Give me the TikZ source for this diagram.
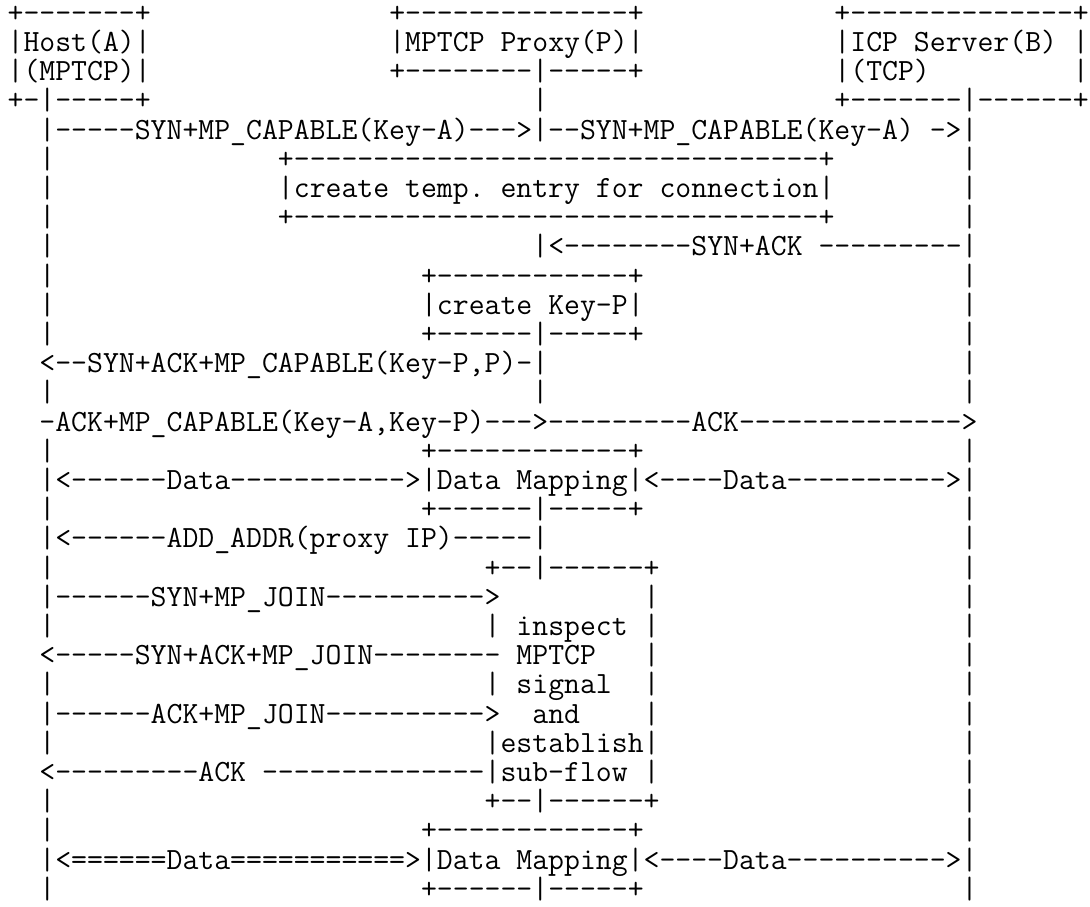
\documentclass[tikz,border=0pt]{standalone}
\usepackage{fontspec}
\frenchspacing
\newlength\cw
\def\fszv{22.7}
\AtBeginDocument{%
  \settowidth\cw{\ttfamily\fontsize{20pt}{20pt}\selectfont M}%
  \ifdim\cw>1pt \pgfmathsetmacro\fszv{20*11.925/\cw}\fi}
\tikzset{seg/.style={anchor=base west, inner sep=0pt, outer sep=0pt, text=black,
  font=\ttfamily\fontsize{\fszv pt}{\fszv pt}\selectfont}}
% row, column, text  (column width 15.9px, row pitch 29.2px)
\newcommand\asg[3]{\node[seg] (s#1-#2) at ({7.65+15.9*#2},{22.3+29.2*(#1-1)}) {#3};}
\begin{document}
\begin{tikzpicture}[x=0.75pt,y=-0.75pt]
\useasboundingbox (0,0) rectangle (1090,907);
\asg{1}{0}{+-------+}\asg{1}{24}{+--------------+}\asg{1}{52}{+--------------+}
\asg{2}{0}{|Host(A)|}\asg{2}{24}{|MPTCP Proxy(P)|}\asg{2}{52}{|ICP Server(B) |}
\asg{3}{0}{|(MPTCP)|}\asg{3}{24}{+--------|-----+}\asg{3}{52}{|(TCP)}\asg{3}{67}{|}
\asg{4}{0}{+-|-----+}\asg{4}{33}{|}\asg{4}{52}{+-------|------+}
\asg{5}{2}{|-----SYN+MP\_CAPABLE(Key-A)--->|--SYN+MP\_CAPABLE(Key-A) ->|}
\asg{6}{2}{|}\asg{6}{17}{+---------------------------------+}\asg{6}{60}{|}
\asg{7}{2}{|}\asg{7}{17}{|create temp. entry for connection|}\asg{7}{60}{|}
\asg{8}{2}{|}\asg{8}{17}{+---------------------------------+}\asg{8}{60}{|}
\asg{9}{2}{|}\asg{9}{33}{|<--------SYN+ACK ---------|}
\asg{10}{2}{|}\asg{10}{26}{+------------+}\asg{10}{60}{|}
\asg{11}{2}{|}\asg{11}{26}{|create Key-P|}\asg{11}{60}{|}
\asg{12}{2}{|}\asg{12}{26}{+------|-----+}\asg{12}{60}{|}
\asg{13}{2}{<--SYN+ACK+MP\_CAPABLE(Key-P,P)-|}\asg{13}{60}{|}
\asg{14}{2}{|}\asg{14}{33}{|}\asg{14}{60}{|}
\asg{15}{2}{-ACK+MP\_CAPABLE(Key-A,Key-P)--->---------ACK-------------->}
\asg{16}{2}{|}\asg{16}{26}{+------------+}\asg{16}{60}{|}
\asg{17}{2}{|<------Data----------->|Data Mapping|<----Data---------->|}
\asg{18}{2}{|}\asg{18}{26}{+------|-----+}\asg{18}{60}{|}
\asg{19}{2}{|<------ADD\_ADDR(proxy IP)-----|}\asg{19}{60}{|}
\asg{20}{2}{|}\asg{20}{30}{+--|------+}\asg{20}{60}{|}
\asg{21}{2}{|------SYN+MP\_JOIN---------->}\asg{21}{40}{|}\asg{21}{60}{|}
\asg{22}{2}{|}\asg{22}{30}{| inspect |}\asg{22}{60}{|}
\asg{23}{2}{<-----SYN+ACK+MP\_JOIN--------}\asg{23}{32}{MPTCP}\asg{23}{40}{|}\asg{23}{60}{|}
\asg{24}{2}{|}\asg{24}{30}{|}\asg{24}{32}{signal}\asg{24}{40}{|}\asg{24}{60}{|}
\asg{25}{2}{|------ACK+MP\_JOIN---------->}\asg{25}{33}{and}\asg{25}{40}{|}\asg{25}{60}{|}
\asg{26}{2}{|}\asg{26}{30}{|establish|}\asg{26}{60}{|}
\asg{27}{2}{<---------ACK --------------|sub-flow |}\asg{27}{60}{|}
\asg{28}{2}{|}\asg{28}{30}{+--|------+}\asg{28}{60}{|}
\asg{29}{2}{|}\asg{29}{26}{+------------+}\asg{29}{60}{|}
\asg{30}{2}{|<======Data===========>|Data Mapping|<----Data---------->|}
\asg{31}{2}{|}\asg{31}{26}{+------|-----+}\asg{31}{60}{|}
\end{tikzpicture}
\end{document}
